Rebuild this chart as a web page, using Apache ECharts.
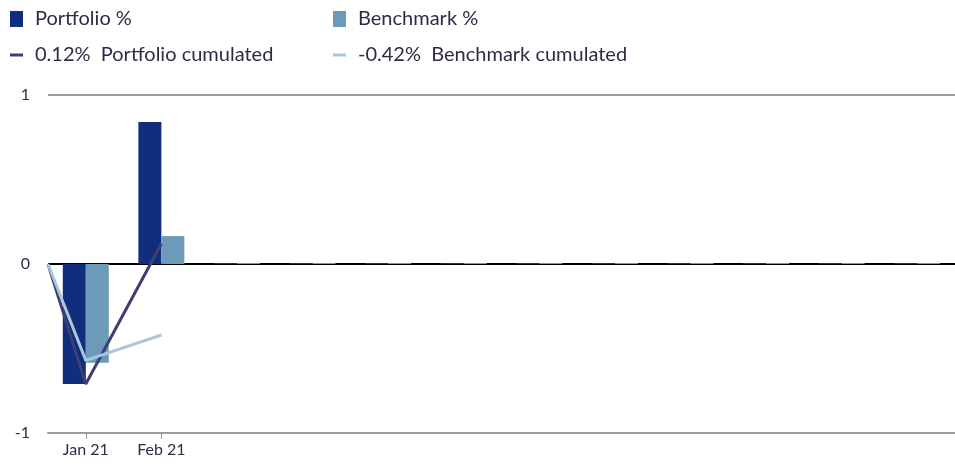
<!DOCTYPE html>
<html>
<head>
<meta charset="utf-8">
<script src="https://cdn.jsdelivr.net/npm/echarts@6/dist/echarts.min.js"></script>
<style>
html,body{margin:0;padding:0;background:#fff;}
#c{width:955px;height:468px;}
</style>
</head>
<body>
<div id="c"></div>
<script>
const categories = ['Jan 21','Feb 21','','','','','','','','','',''];
const portfolio = [-0.71, 0.84, 0, 0, 0, 0, 0, 0, 0, 0, 0, 0];
const benchmark = [-0.585, 0.165, 0, 0, 0, 0, 0, 0, 0, 0, 0, 0];
const portfolioCum = [-0.71, 0.12];
const benchmarkCum = [-0.57, -0.42];
const yTicks = [-1, 0, 1];

const fmt = v => v.toFixed(2) + '%';
const portCumName = fmt(portfolioCum[portfolioCum.length-1]) + '  Portfolio cumulated';
const benchCumName = fmt(benchmarkCum[benchmarkCum.length-1]) + '  Benchmark cumulated';

const lineData = arr => [[0, 0]].concat(arr.map((v, i) => [i + 0.5, v]));

const FONT = 'Lato';
const TXT = '#2a2d45';
const C_P = '#112d7d', C_B = '#6b9bb8', C_PL = '#3d3f74', C_BL = '#a9c6db';

const legendBase = {
  orient: 'horizontal', itemGap: 0, padding: 0,
  textStyle: {fontFamily: FONT, fontSize: 20, color: TXT, padding: [0,0,0,7]},
  selectedMode: false
};

const chart = echarts.init(document.getElementById('c'), null, {renderer: 'canvas'});
chart.setOption({
  animation: false,
  backgroundColor: '#fff',
  legend: [
    Object.assign({}, legendBase, {left: 10, top: 9, data: ['Portfolio %'], itemWidth: 13, itemHeight: 16, icon: 'rect'}),
    Object.assign({}, legendBase, {left: 333, top: 9, data: ['Benchmark %'], itemWidth: 13, itemHeight: 16, icon: 'rect'}),
    Object.assign({}, legendBase, {left: 10, top: 45, data: [portCumName], itemWidth: 13, itemHeight: 3, icon: 'rect'}),
    Object.assign({}, legendBase, {left: 333, top: 45, data: [benchCumName], itemWidth: 13, itemHeight: 3, icon: 'rect'})
  ],
  grid: {left: 48, right: 0, top: 95, bottom: 35, containLabel: false},
  xAxis: [
    {
      type: 'category', data: categories, boundaryGap: true,
      axisLine: {show: true, onZero: false, lineStyle: {color: '#9a9a9a', width: 2}},
      axisTick: {show: true, length: 6, lineStyle: {color: '#9a9a9a', width: 1}, alignWithLabel: true,
        interval: (i, v) => v !== ''},
      axisLabel: {fontFamily: FONT, fontSize: 16, color: TXT, margin: 9, interval: 0},
      splitLine: {show: false}
    },
    {
      type: 'value', min: 0, max: categories.length, show: false
    }
  ],
  yAxis: {
    type: 'value', min: yTicks[0], max: yTicks[yTicks.length-1], interval: 1,
    axisLine: {show: false}, axisTick: {show: false},
    axisLabel: {fontFamily: FONT, fontSize: 16, color: TXT, margin: 18},
    splitLine: {show: true, lineStyle: {color: ['#9a9a9a', '#000000', '#9a9a9a'], width: 2}}
  },
  series: [
    {name: 'Portfolio %', type: 'bar', data: portfolio, barWidth: 23, barGap: '0%', barMinHeight: 1,
      itemStyle: {color: C_P}, xAxisIndex: 0},
    {name: 'Benchmark %', type: 'bar', data: benchmark, barWidth: 23, barGap: '0%', barMinHeight: 1,
      itemStyle: {color: C_B}, xAxisIndex: 0},
    {name: portCumName, type: 'line', xAxisIndex: 1, data: lineData(portfolioCum), symbol: 'none',
      lineStyle: {color: C_PL, width: 3}, itemStyle: {color: C_PL}, z: 3},
    {name: benchCumName, type: 'line', xAxisIndex: 1, data: lineData(benchmarkCum), symbol: 'none',
      lineStyle: {color: C_BL, width: 3}, itemStyle: {color: C_BL}, z: 3}
  ]
});
</script>
</body>
</html>
